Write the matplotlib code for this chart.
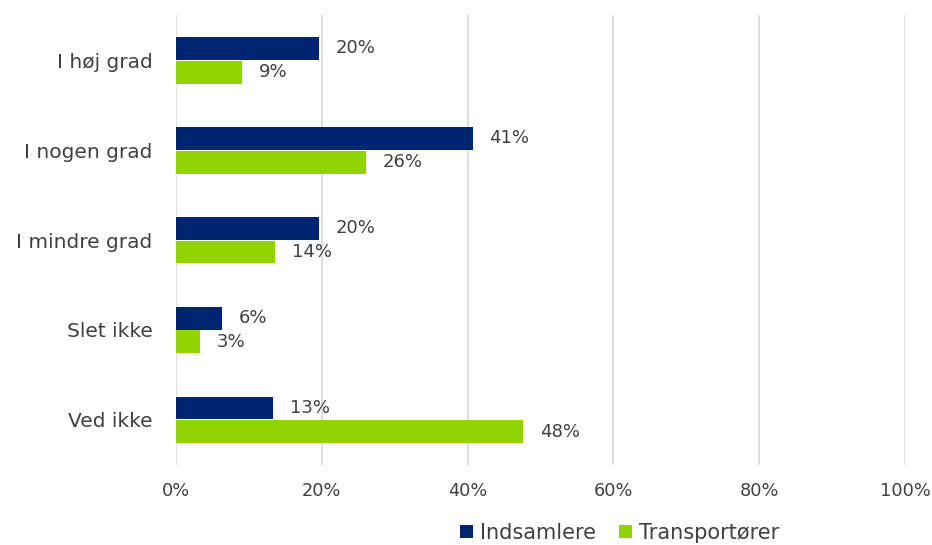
import matplotlib.pyplot as plt
import numpy as np

# ── Data ──────────────────────────────────────────────────────────────────────
categories = ["I høj grad", "I nogen grad", "I mindre grad", "Slet ikke", "Ved ikke"]
indsamlere = [19.6, 40.7, 19.6, 6.3, 13.3]
transportoerer = [9.1, 26.1, 13.6, 3.3, 47.6]
series_names = ["Indsamlere", "Transportører"]
xticks = [0, 20, 40, 60, 80, 100]

NAVY = "#002570"
GREEN = "#92D400"
TXT = "#404040"

plt.rcParams["font.family"] = ["DejaVu Sans"]

fig = plt.figure(figsize=(9.32, 5.45), dpi=100)
ax = fig.add_axes([0.189, 0.147, 0.782, 0.825])

y = np.arange(len(categories))
h = 0.255
b1 = ax.barh(y - h / 2 - 0.005, indsamlere, height=h, color=NAVY, label=series_names[0], zorder=3)
b2 = ax.barh(y + h / 2 + 0.005, transportoerer, height=h, color=GREEN, label=series_names[1], zorder=3)

for bars, vals in ((b1, indsamlere), (b2, transportoerer)):
    for bar, v in zip(bars, vals):
        ax.annotate(f"{round(v):d}%", (bar.get_width(), bar.get_y() + bar.get_height() / 2),
                    xytext=(12, 0), textcoords="offset points",
                    va="center", ha="left", fontsize=13, color=TXT)

ax.set_xlim(0, 100)
ax.set_ylim(len(categories) - 0.5, -0.5)
ax.set_yticks(y)
ax.set_yticklabels(categories, fontsize=14.5, color=TXT)
ax.set_xticks(xticks)
ax.set_xticklabels([f"{t}%" for t in xticks], fontsize=12.8, color=TXT)
ax.tick_params(axis="both", length=0)
ax.tick_params(axis="y", pad=17)
ax.tick_params(axis="x", pad=12)
ax.grid(axis="x", color="#d9d9d9", lw=1.2, zorder=0)
for s in ax.spines.values():
    s.set_visible(False)

fig.legend(handles=[b1, b2], loc="center", bbox_to_anchor=(0.665, 0.022), ncol=2,
           frameon=False, fontsize=15, handlelength=0.62, handleheight=0.62,
           handletextpad=0.35, columnspacing=1.1, labelcolor=TXT)

fig.savefig("out.png", dpi=100)
